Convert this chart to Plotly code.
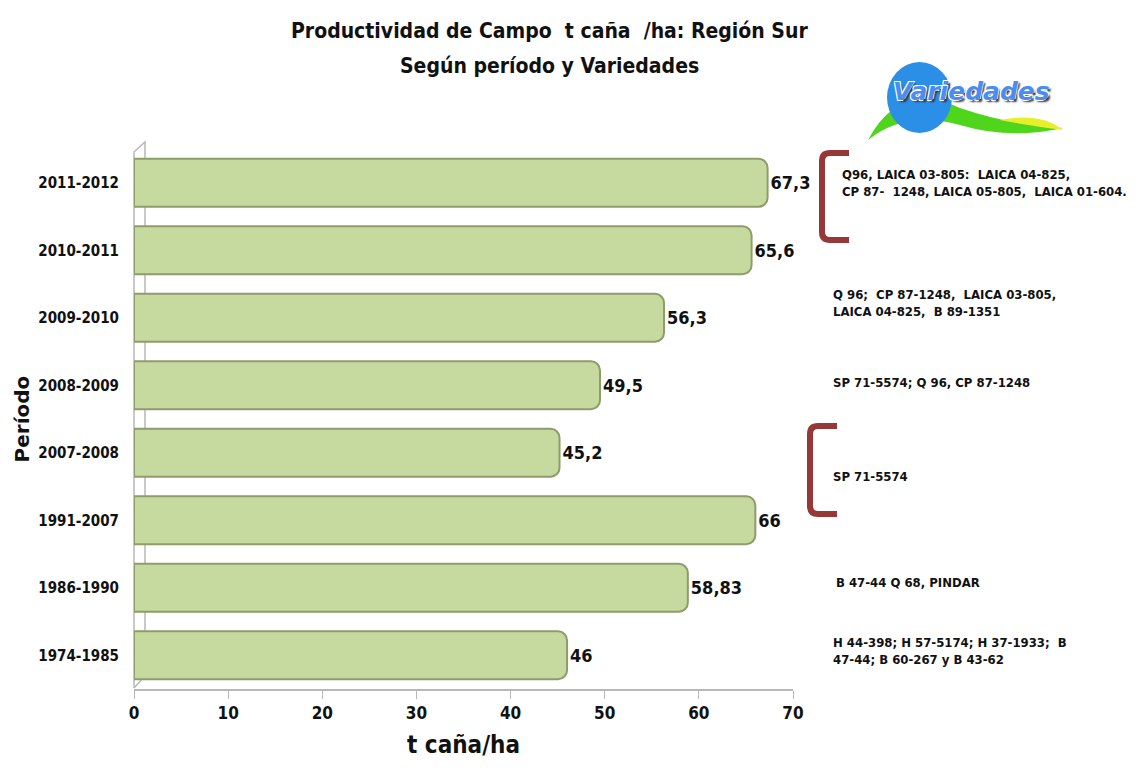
import plotly.graph_objects as go

# data (top to bottom as in the chart)
periods = ["2011-2012", "2010-2011", "2009-2010", "2008-2009",
           "2007-2008", "1991-2007", "1986-1990", "1974-1985"]
yields = [67.3, 65.6, 56.3, 49.5, 45.2, 66.0, 58.83, 46.0]
value_labels = ["67,3", "65,6", "56,3", "49,5", "45,2", "66", "58,83", "46"]
varieties = [
    "Q96, LAICA 03-805:  LAICA 04-825,<br>CP 87-  1248, LAICA 05-805,  LAICA 01-604.",
    "Q 96;  CP 87-1248,  LAICA 03-805,<br>LAICA 04-825,  B 89-1351",
    "SP 71-5574; Q 96, CP 87-1248",
    "SP 71-5574",
    "B 47-44 Q 68, PINDAR",
    "H 44-398; H 57-5174; H 37-1933;  B<br>47-44; B 60-267 y B 43-62",
]
x_ticks = [0, 10, 20, 30, 40, 50, 60, 70]
title_lines = ["Productividad de Campo  t caña  /ha: Región Sur",
               "Según período y Variedades"]

NARROW = "DejaVu Sans Condensed, Roboto, sans-serif"
BAR_FILL = "#c6d99e"
BAR_EDGE = "#8e9c6c"
BRACKET = "#963838"

# page has an 8px body margin, so figure pixels = screen pixels - 8
OFF = 8
W, H = 1143 - 2 * OFF, 772 - 2 * OFF
L, T = 134 - OFF, 149 - OFF
R, B = W - (793 - OFF), H - (689 - OFF)
pw, ph = W - L - R, H - T - B


def py(v):
    return (H - B - (v - OFF)) / ph


def pxf(v):
    return (v - OFF - L) / pw


fig = go.Figure()
fig.add_trace(go.Bar(
    x=yields, y=periods, orientation="h",
    marker=dict(color=BAR_FILL, line=dict(color=BAR_EDGE, width=2)),
    text=value_labels, textposition="outside", cliponaxis=False,
    textfont=dict(family=NARROW, size=18, color="#111", weight="bold"),
    hoverinfo="x+y",
))

# title lines
for txt, ty in zip(title_lines, [31, 66]):
    fig.add_annotation(x=pxf(549), y=py(ty), xref="paper", yref="paper",
                       text=txt, showarrow=False, xanchor="center", yanchor="middle",
                       font=dict(family=NARROW, size=21, color="#111", weight="bold"))

# variety notes at the right (pixel anchors converted to paper coords)
note_pos = [(840, 183), (831, 303), (831, 382), (831, 476),
            (834, 582), (831, 651)]
for txt, (nx, ny) in zip(varieties, note_pos):
    fig.add_annotation(
        x=pxf(nx), y=py(ny), xref="paper", yref="paper",
        text=txt, showarrow=False, xanchor="left", yanchor="middle",
        align="left",
        font=dict(family=NARROW, size=13, color="#111", weight="bold"),
    )

shapes = []
# brackets
for x0, y0, y1 in [(822, 153, 240), (810, 426, 514)]:
    x1 = x0 + 27
    r = 8
    path = (f"M {pxf(x1)},{py(y0)} L {pxf(x0 + r)},{py(y0)} "
            f"Q {pxf(x0)},{py(y0)} {pxf(x0)},{py(y0 + r)} "
            f"L {pxf(x0)},{py(y1 - r)} Q {pxf(x0)},{py(y1)} {pxf(x0 + r)},{py(y1)} "
            f"L {pxf(x1)},{py(y1)}")
    shapes.append(dict(type="path", xref="paper", yref="paper", path=path,
                       line=dict(color=BRACKET, width=6)))

# 3D wall outline
wall = "#b8b8b8"
shapes.append(dict(type="path", xref="paper", yref="paper",
                   path=(f"M {pxf(134)},{py(688)} L {pxf(134)},{py(152)} "
                         f"L {pxf(145)},{py(142)} L {pxf(145)},{py(676)} "
                         f"L {pxf(134)},{py(688)}"),
                   line=dict(color=wall, width=1.5), layer="below"))

# logo approximation
shapes.append(dict(type="path", xref="paper", yref="paper",
                   path=(f"M {pxf(868)},{py(140)} Q {pxf(900)},{py(80)} {pxf(960)},{py(108)} "
                         f"Q {pxf(1010)},{py(125)} {pxf(1063)},{py(128)} "
                         f"Q {pxf(1010)},{py(140)} {pxf(960)},{py(125)} "
                         f"Q {pxf(905)},{py(110)} {pxf(868)},{py(140)} Z"),
                   fillcolor="#4fd61c", line=dict(width=0)))
shapes.append(dict(type="path", xref="paper", yref="paper",
                   path=(f"M {pxf(1000)},{py(120)} Q {pxf(1040)},{py(112)} {pxf(1063)},{py(130)} "
                         f"Q {pxf(1030)},{py(126)} {pxf(1000)},{py(120)} Z"),
                   fillcolor="#e8ee2a", line=dict(width=0)))
shapes.append(dict(type="circle", xref="paper", yref="paper",
                   x0=pxf(887), x1=pxf(952), y0=py(133), y1=py(62),
                   fillcolor="#2b8fe8", line=dict(width=0)))
fig.add_annotation(x=pxf(971), y=py(92), xref="paper", yref="paper",
                   text="<i>Variedades</i>", showarrow=False,
                   xanchor="center", yanchor="middle",
                   font=dict(family="DejaVu Sans", size=25, color="#4a8cf0",
                             weight="bold",
                             shadow="-1px -1px 0 #fff, 1px -1px 0 #fff, -1px 1px 0 #fff, 2px 2px 2px #334"))

fig.update_layout(
    width=W, height=H,
    margin=dict(l=L, r=R, t=T, b=B),
    paper_bgcolor="white", plot_bgcolor="white",
    showlegend=False,
    bargap=0.29,
    barcornerradius=9,
    shapes=shapes,
    xaxis=dict(range=[0, 70], tickvals=x_ticks, showgrid=False, zeroline=False,
               automargin=False,
               showline=True, linecolor="#b8b8b8", linewidth=2,
               ticks="outside", ticklen=8, tickcolor="#b8b8b8",
               tickfont=dict(family=NARROW, size=17, color="#111", weight="bold"),
               title=dict(text="t caña/ha", standoff=14,
                          font=dict(family=NARROW, size=24, color="#111", weight="bold"))),
    yaxis=dict(categoryorder="array", categoryarray=periods[::-1],
               showgrid=False, showline=False, ticks="",
               automargin=False,
               ticklabelstandoff=14,
               tickfont=dict(family=NARROW, size=15, color="#111", weight="bold"),
               title=dict(text="Período", standoff=3,
                          font=dict(family="DejaVu Sans, Arial, sans-serif", size=20,
                                    color="#111", weight="bold"))),
)

fig.write_html("out.html")
